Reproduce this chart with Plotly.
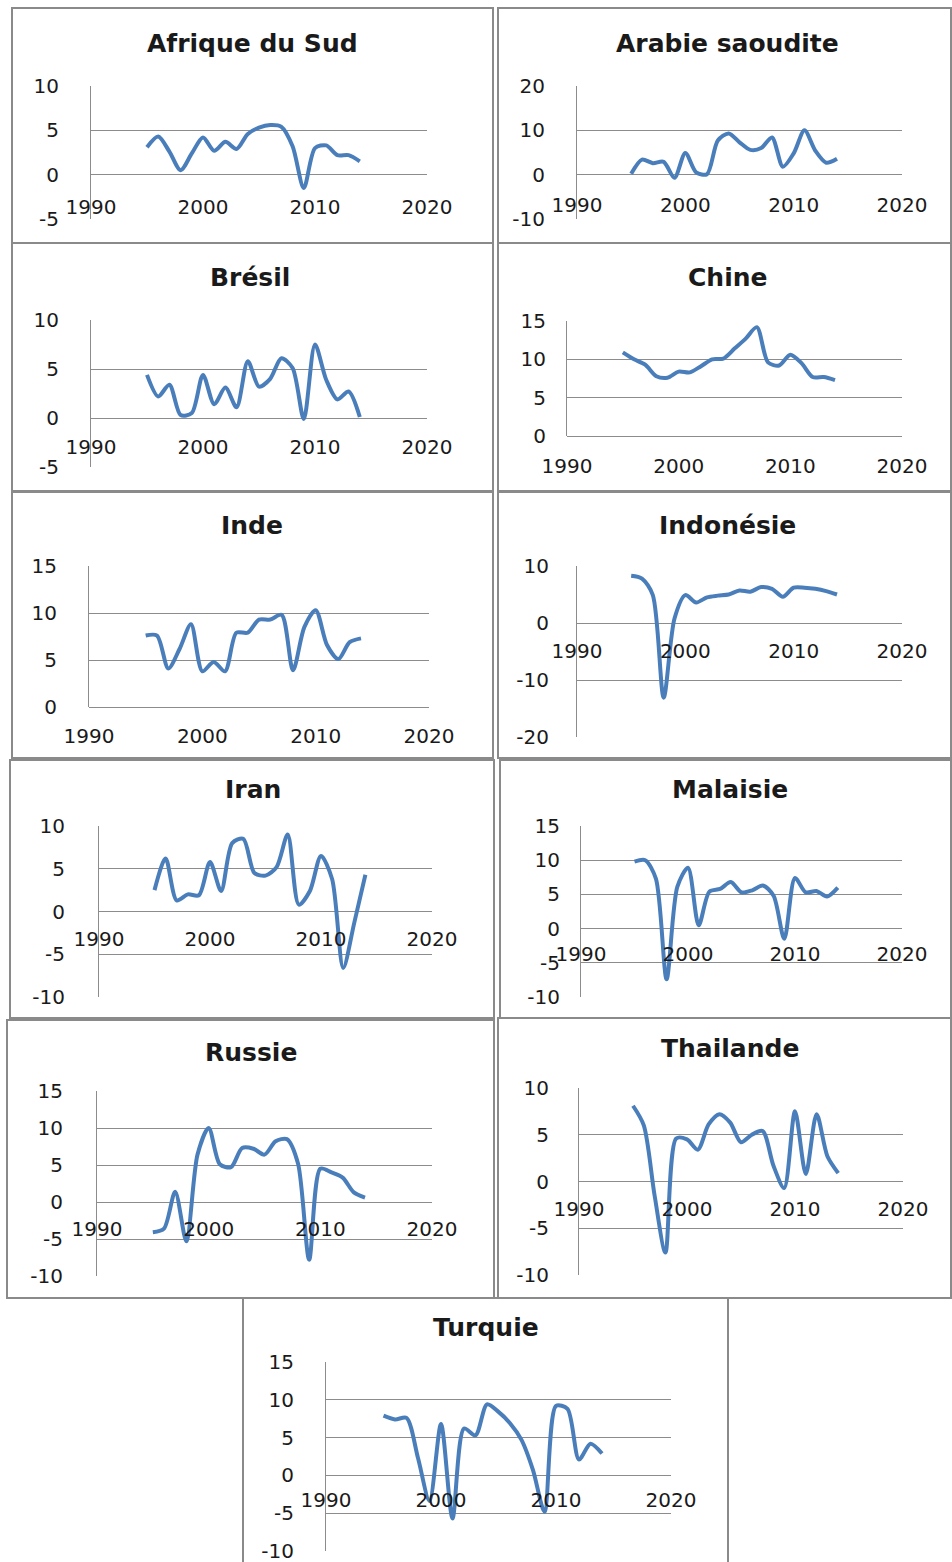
import plotly.graph_objects as go

# ---------------- data (GDP growth, %) ----------------
years = list(range(1995, 2015))

afrique_du_sud = [3.1, 4.3, 2.6, 0.5, 2.4, 4.2, 2.7, 3.7, 2.9, 4.6, 5.3, 5.6, 5.4, 3.2, -1.5, 3.0, 3.3, 2.2, 2.2, 1.5]
arabie_saoudite = [0.2, 3.4, 2.6, 2.9, -0.7, 4.9, 0.5, 0.1, 7.7, 9.3, 7.3, 5.6, 6.0, 8.4, 1.8, 4.8, 10.0, 5.4, 2.7, 3.6]
bresil = [4.4, 2.2, 3.4, 0.3, 0.5, 4.4, 1.4, 3.1, 1.1, 5.8, 3.2, 4.0, 6.1, 5.1, -0.1, 7.5, 3.9, 1.9, 2.7, 0.1]
chine = [10.9, 10.0, 9.3, 7.8, 7.6, 8.4, 8.3, 9.1, 10.0, 10.1, 11.4, 12.7, 14.2, 9.6, 9.2, 10.6, 9.5, 7.7, 7.7, 7.3]
inde = [7.6, 7.6, 4.1, 6.2, 8.8, 3.8, 4.8, 3.8, 7.9, 7.9, 9.3, 9.3, 9.8, 3.9, 8.5, 10.3, 6.6, 5.1, 6.9, 7.3]
indonesie = [8.3, 7.8, 4.9, -13.1, 0.8, 4.9, 3.6, 4.5, 4.8, 5.0, 5.7, 5.5, 6.3, 6.0, 4.6, 6.2, 6.2, 6.0, 5.6, 5.0]
iran = [2.5, 6.2, 1.3, 2.0, 1.9, 5.8, 2.4, 8.0, 8.5, 4.5, 4.2, 5.2, 9.0, 0.8, 2.4, 6.5, 3.8, -6.6, -1.3, 4.3]
malaisie = [9.8, 10.0, 7.3, -7.4, 6.1, 8.9, 0.5, 5.4, 5.8, 6.8, 5.3, 5.6, 6.3, 4.8, -1.5, 7.4, 5.3, 5.5, 4.7, 6.0]
russie = [-4.1, -3.6, 1.4, -5.3, 6.4, 10.0, 5.1, 4.7, 7.3, 7.2, 6.4, 8.2, 8.5, 5.2, -7.8, 4.5, 4.0, 3.3, 1.3, 0.6]
thailande = [8.1, 6.0, -1.5, -7.6, 4.6, 4.5, 3.4, 6.1, 7.2, 6.3, 4.2, 5.0, 5.4, 1.7, -0.7, 7.5, 0.8, 7.2, 2.7, 0.9]
turquie = [7.9, 7.4, 7.6, 2.3, -3.4, 6.8, -5.7, 6.2, 5.3, 9.4, 8.4, 6.9, 4.7, 0.7, -4.8, 9.2, 8.8, 2.1, 4.2, 2.9]

titles = ["Afrique du Sud", "Arabie saoudite", "Brésil", "Chine", "Inde", "Indonésie",
          "Iran", "Malaisie", "Russie", "Thailande", "Turquie"]
series = [afrique_du_sud, arabie_saoudite, bresil, chine, inde, indonesie,
          iran, malaisie, russie, thailande, turquie]
y_ranges = [(-5, 10), (-10, 20), (-5, 10), (0, 15), (0, 15), (-20, 10),
            (-10, 10), (-10, 15), (-10, 15), (-10, 10), (-10, 15)]
y_dticks = [5, 10, 5, 5, 5, 10, 5, 5, 5, 5, 5]
x_ticks = [1990, 2000, 2010, 2020]

# ---------------- layout geometry (pixels) ----------------
W, H = 952, 1562
# plot area: left, right, top, bottom
plot_px = [
    (91, 427, 86, 219), (577, 902, 86, 219),
    (91, 427, 320, 467), (567, 902, 321, 436),
    (89, 429, 566, 707), (577, 902, 566, 737),
    (99, 432, 826, 997), (581, 902, 826, 997),
    (97, 432, 1091, 1276), (579, 903, 1088, 1275),
    (326, 671, 1362, 1551),
]
title_px = [(252, 43), (727, 43), (250, 278), (727, 278), (252, 525), (727, 525),
            (253, 789), (730, 789), (251, 1052), (730, 1048), (486, 1327)]
box_px = [(12, 8, 493, 243), (498, 8, 951, 243),
          (12, 243, 493, 491), (498, 243, 951, 491),
          (12, 492, 493, 758), (498, 492, 951, 758),
          (10, 760, 494, 1018), (500, 760, 951, 1018),
          (7, 1020, 494, 1298), (498, 1018, 951, 1298),
          (243, 1298, 728, 1570)]
ylab_gap = [30, 30, 30, 19, 30, 26, 32, 19, 32, 28, 30]
xlab_len = [14, 12, 11, 12, 11, 10, 9, 7, 9, 9, 7]

LINE = "#4A7EBB"
GRID = "#8C8C8C"
FONT = "DejaVu Sans"
TXT = "#1a1a1a"

fig = go.Figure()
layout = dict(
    width=W, height=H, autosize=False,
    margin=dict(l=0, r=0, t=0, b=0, pad=0, autoexpand=False),
    paper_bgcolor="white", plot_bgcolor="white",
    showlegend=False, font=dict(family=FONT, color=TXT),
)
shapes = []
annotations = []

def px_x(v):
    return v / W

def px_y(v):
    return 1 - v / H

for i in range(11):
    n = i + 1
    xa = "x" if n == 1 else f"x{n}"
    ya = "y" if n == 1 else f"y{n}"
    L, R, T, B = plot_px[i]
    y0, y1 = y_ranges[i]
    step = y_dticks[i]
    yt = list(range(y0, y1 + 1, step))
    fig.add_trace(go.Scatter(
        x=years, y=series[i], mode="lines", xaxis=xa, yaxis=ya,
        line=dict(color=LINE, width=4, shape="spline", smoothing=0.8),
        hoverinfo="x+y",
    ))
    frac0 = (0 - y0) / (y1 - y0)
    zero_py = B - frac0 * (B - T)
    layout[f"xaxis{n}" if n > 1 else "xaxis"] = dict(
        domain=[px_x(L), px_x(R)], range=[1990, 2020],
        tickmode="array", tickvals=x_ticks, ticktext=[str(t) for t in x_ticks],
        showgrid=False, zeroline=False, showline=False,
        anchor="free", position=px_y(zero_py), automargin=False,
        ticklabeloverflow="allow",
        ticks="outside", ticklen=xlab_len[i], tickcolor="rgba(0,0,0,0)",
        tickfont=dict(family=FONT, size=20, color=TXT),
        fixedrange=True,
    )
    layout[f"yaxis{n}" if n > 1 else "yaxis"] = dict(
        domain=[px_y(B), px_y(T)], range=[y0, y1],
        tickmode="array", tickvals=yt, ticktext=[str(v) for v in yt],
        anchor=xa, automargin=False, ticklabeloverflow="allow",
        showgrid=True, gridcolor=GRID, gridwidth=1,
        zeroline=True, zerolinecolor=GRID, zerolinewidth=1,
        showline=True, linecolor=GRID, linewidth=1,
        ticks="outside", ticklen=max(ylab_gap[i] - 3, 0), tickcolor="rgba(0,0,0,0)",
        tickfont=dict(family=FONT, size=20, color=TXT),
        fixedrange=True,
    )
    tx, ty = title_px[i]
    annotations.append(dict(
        text=f"<b>{titles[i]}</b>", xref="paper", yref="paper",
        x=px_x(tx), y=px_y(ty), xanchor="center", yanchor="middle",
        showarrow=False, font=dict(family=FONT, size=25, color=TXT),
    ))
    bx0, by0, bx1, by1 = box_px[i]
    shapes.append(dict(
        type="rect", xref="paper", yref="paper",
        x0=px_x(bx0), x1=px_x(bx1), y0=px_y(by1), y1=px_y(by0),
        line=dict(color="#8A8A8A", width=2), fillcolor="rgba(0,0,0,0)", layer="below",
    ))

layout["shapes"] = shapes
layout["annotations"] = annotations
fig.update_layout(**layout)

fig.write_html(
    "out.html",
    config={"displayModeBar": False},
    post_script="document.body.style.margin='0';document.body.style.overflow='hidden';",
)
